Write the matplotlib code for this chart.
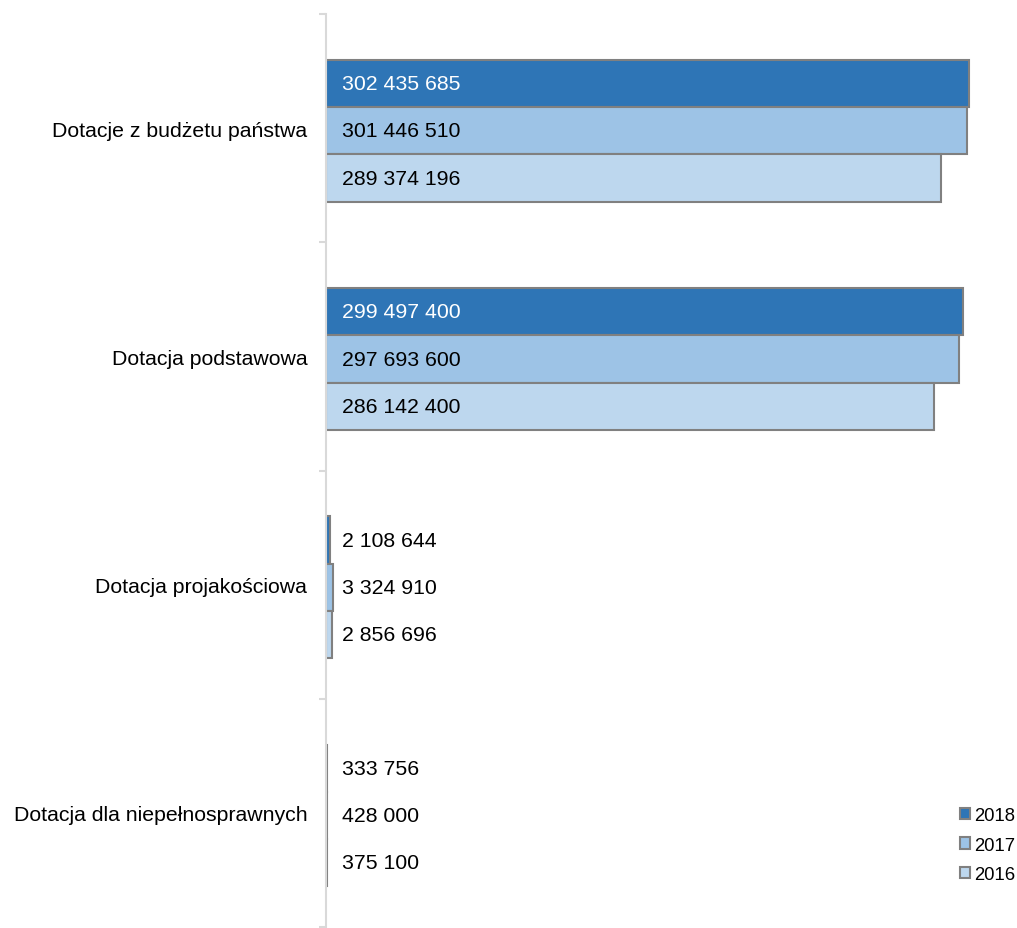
import matplotlib
matplotlib.use("Agg")
import matplotlib.pyplot as plt
import numpy as np
from matplotlib.patches import Patch

categories = ["Dotacje z budżetu państwa", "Dotacja podstawowa",
              "Dotacja projakościowa", "Dotacja dla niepełnosprawnych"]
years = ["2018", "2017", "2016"]
values = {
    "2018": [302435685, 299497400, 2108644, 333756],
    "2017": [301446510, 297693600, 3324910, 428000],
    "2016": [289374196, 286142400, 2856696, 375100],
}
colors = {"2018": "#2E75B6", "2017": "#9DC3E6", "2016": "#BDD7EE"}
label_colors = {"2018": "white", "2017": "black", "2016": "black"}

plt.rcParams['font.family'] = ['Liberation Sans', 'DejaVu Sans']

W, H = 1017, 929
fig = plt.figure(figsize=(W / 100, H / 100), dpi=100)
ax_left, ax_right = 326, 1010
ax_top, ax_bottom = 15, 928
ax = fig.add_axes([ax_left / W, 1 - ax_bottom / H, (ax_right - ax_left) / W, (ax_bottom - ax_top) / H])

n = len(categories)
bar_h = 0.207
offsets = {"2018": -bar_h, "2017": 0.0, "2016": bar_h}
centers = np.arange(n) + 0.5

px_per_unit = 643 / 302435685
xmax = (ax_right - ax_left) / px_per_unit
label_x = 16 / px_per_unit

for y in years:
    ys = centers + offsets[y] + 0.012
    ax.barh(ys, values[y], height=bar_h, color=colors[y], edgecolor="#808080", linewidth=1.5)
    for yy, v in zip(ys, values[y]):
        txt = f"{v:,}".replace(",", " ")
        col = label_colors[y] if v > 0.1 * xmax else "black"
        ax.text(label_x, yy, txt, va="center", ha="left", fontsize=15.3, color=col)

ax.set_xlim(0, xmax)
ax.set_ylim(n, 0)
ax.set_xticks([])
ax.set_yticks(centers)
ax.set_yticklabels(categories, fontsize=15.3)
ax.set_yticks(np.arange(n + 1), minor=True)
ax.tick_params(axis="y", which="major", length=0, pad=13.5)
ax.tick_params(axis="y", which="minor", length=5, color="#D9D9D9", width=1.5)
for s in ["top", "right", "bottom"]:
    ax.spines[s].set_visible(False)
ax.spines["left"].set_color("#D9D9D9")
ax.spines["left"].set_linewidth(1.5)

handles = [Patch(facecolor=colors[y], edgecolor="#808080", linewidth=1.5, label=y) for y in years]
fig.legend(handles=handles, loc="upper left", bbox_to_anchor=(960 / W, 1 - 808 / H),
           frameon=False, fontsize=13.3, handlelength=0.55, handleheight=0.55,
           handletextpad=0.2, labelspacing=0.68, borderpad=0, borderaxespad=0)

fig.savefig("out.png", dpi=100)
